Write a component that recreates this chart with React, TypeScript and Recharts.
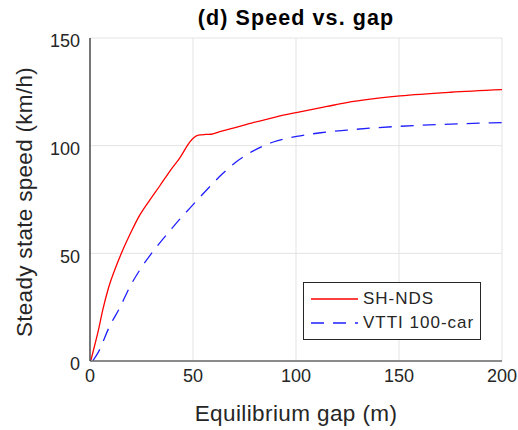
import { LineChart, Line, XAxis, YAxis, CartesianGrid } from 'recharts';

const xTicks = [0, 50, 100, 150, 200];
const yTicks = [0, 50, 100, 150];

// SH-NDS (solid red)
const shGap = [0.5, 1.3, 4, 6.2, 9, 12.6, 15.9, 20, 24, 29, 34, 38.8, 43.7, 48.5, 50.5, 52.6, 56, 59, 63, 70, 77.7, 90, 101.9, 115, 124.6, 137, 150.5, 175, 200];
const shSpeed = [0.5, 3.6, 14, 23.7, 34, 43.8, 51.5, 60, 67.5, 74.7, 81.5, 88.2, 94.5, 101.8, 103.8, 104.9, 105.2, 105.3, 106.5, 108.3, 110.3, 113.3, 115.7, 118.2, 120, 121.7, 123.1, 124.8, 126];

// VTTI 100-car (dashed blue)
const vtGap = [1.5, 4, 9.4, 14.6, 19.1, 24, 29.5, 34, 38.8, 43.5, 48.5, 53, 57.4, 63.9, 71.2, 79.3, 89, 100.3, 112, 124.6, 137, 150.5, 175, 200];
const vtSpeed = [0.3, 4, 15.9, 25, 34, 42, 49.5, 55, 60.5, 65.8, 71, 75.7, 80.2, 86.6, 92.6, 97.6, 101.7, 104.3, 106, 107.2, 108.2, 109, 110, 110.7];

const shData = shGap.map((g, i) => ({ gap: g, speed: shSpeed[i] }));
const vtData = vtGap.map((g, i) => ({ gap: g, speed: vtSpeed[i] }));

const font = '"Liberation Sans", Arial, sans-serif';
const ink = '#262626';
const red = '#ff0000';
const blue = '#1f1fff';

function LegendBox() {
  const row = (top: number, label: string, color: string, dash?: string) => (
    <div style={{ position: 'absolute', left: 0, top: top - 12, height: 24, display: 'flex', alignItems: 'center' }}>
      <svg width={58} height={10}>
        <line x1={7} x2={54} y1={5} y2={5} stroke={color} strokeWidth={1.3} strokeDasharray={dash} />
      </svg>
      <span style={{ marginLeft: 1 }}>{label}</span>
    </div>
  );
  return (
    <div
      style={{
        position: 'absolute',
        left: 303,
        top: 282,
        width: 178,
        height: 58,
        boxSizing: 'border-box',
        border: `1px solid ${ink}`,
        background: '#fff',
        fontFamily: font,
        fontSize: 17,
        letterSpacing: 1,
        color: ink,
      }}
    >
      {row(16, 'SH-NDS', red)}
      {row(40, 'VTTI 100-car', blue, '13 9')}
    </div>
  );
}

export default function App() {
  return (
    <div style={{ position: 'absolute', left: 0, top: 0, width: 518, height: 430, background: '#fff' }}>
      <LineChart width={518} height={430} margin={{ top: 38, right: 16, bottom: 0, left: 30 }}>
        <CartesianGrid stroke="#e3e3e3" strokeWidth={1} />
        <XAxis
          type="number"
          dataKey="gap"
          domain={[0, 200]}
          ticks={xTicks}
          interval={0}
          height={69}
          tickLine={false}
          axisLine={{ stroke: ink, strokeWidth: 1.2 }}
          tick={{ fill: ink, fontSize: 18, fontFamily: font }}
          tickMargin={2}
          allowDataOverflow
        />
        <YAxis
          type="number"
          domain={[0, 150]}
          ticks={yTicks}
          interval={0}
          width={60}
          tickLine={false}
          axisLine={{ stroke: ink, strokeWidth: 1.2 }}
          tick={{ fill: ink, fontSize: 18, fontFamily: font, dy: 3 }}
          tickMargin={4}
        />
        <Line
          data={shData}
          dataKey="speed"
          type="monotone"
          stroke={red}
          strokeWidth={1.3}
          dot={false}
          isAnimationActive={false}
        />
        <Line
          data={vtData}
          dataKey="speed"
          type="monotone"
          stroke={blue}
          strokeWidth={1.3}
          strokeDasharray="13 9"
          dot={false}
          isAnimationActive={false}
        />
      </LineChart>
      <div
        style={{
          position: 'absolute',
          left: 90,
          width: 412,
          top: 6,
          textAlign: 'center',
          fontFamily: font,
          fontWeight: 'bold',
          fontSize: 21.5,
          letterSpacing: 1.1,
          color: '#000',
        }}
      >
        (d) Speed vs. gap
      </div>
      <div
        style={{
          position: 'absolute',
          left: 90,
          width: 412,
          top: 401,
          textAlign: 'center',
          fontFamily: font,
          fontSize: 22.5,
          letterSpacing: 0.4,
          color: ink,
        }}
      >
        Equilibrium gap (m)
      </div>
      <div
        style={{
          position: 'absolute',
          left: 25,
          top: 202,
          transform: 'translate(-50%, -50%) rotate(-90deg)',
          whiteSpace: 'nowrap',
          fontFamily: font,
          fontSize: 22.5,
          letterSpacing: 0.3,
          color: ink,
        }}
      >
        Steady state speed (km/h)
      </div>
      <LegendBox />
    </div>
  );
}
